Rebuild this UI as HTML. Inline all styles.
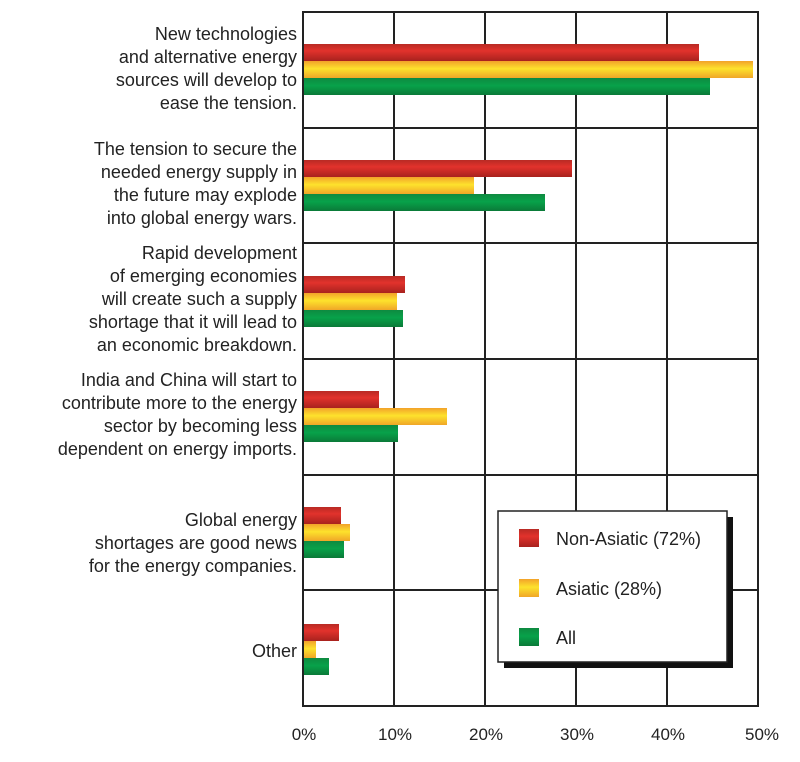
<!DOCTYPE html>
<html><head><style>
body{margin:0;background:#fff;}
svg{display:block;font-family:"Liberation Sans",sans-serif;}
</style></head><body>
<svg width="800" height="762" viewBox="0 0 800 762">
<defs>
<linearGradient id="r" x1="0" y1="0" x2="0" y2="1"><stop offset="0" stop-color="#b82a24"/><stop offset="0.4" stop-color="#e2322c"/><stop offset="1" stop-color="#a8221e"/></linearGradient>
<linearGradient id="y" x1="0" y1="0" x2="0" y2="1"><stop offset="0" stop-color="#f2a22a"/><stop offset="0.45" stop-color="#fde22c"/><stop offset="1" stop-color="#f0a628"/></linearGradient>
<linearGradient id="g" x1="0" y1="0" x2="0" y2="1"><stop offset="0" stop-color="#0e8a40"/><stop offset="0.45" stop-color="#08a24a"/><stop offset="1" stop-color="#0a7a38"/></linearGradient>
</defs>
<g stroke="#222" stroke-width="2" fill="none">
<rect x="303" y="12" width="455" height="694"/>
<line x1="394" y1="12" x2="394" y2="706"/><line x1="485" y1="12" x2="485" y2="706"/>
<line x1="576" y1="12" x2="576" y2="706"/><line x1="667" y1="12" x2="667" y2="706"/>
<line x1="303" y1="128" x2="758" y2="128"/><line x1="303" y1="243" x2="758" y2="243"/>
<line x1="303" y1="359" x2="758" y2="359"/><line x1="303" y1="475" x2="758" y2="475"/>
<line x1="303" y1="590" x2="758" y2="590"/>
</g>
<g>
<rect x="304" y="44" width="395" height="17" fill="url(#r)"/><rect x="304" y="61" width="449" height="17" fill="url(#y)"/><rect x="304" y="78" width="406" height="17" fill="url(#g)"/>
<rect x="304" y="160" width="268" height="17" fill="url(#r)"/><rect x="304" y="177" width="170" height="17" fill="url(#y)"/><rect x="304" y="194" width="241" height="17" fill="url(#g)"/>
<rect x="304" y="276" width="101" height="17" fill="url(#r)"/><rect x="304" y="293" width="93" height="17" fill="url(#y)"/><rect x="304" y="310" width="99" height="17" fill="url(#g)"/>
<rect x="304" y="391" width="75" height="17" fill="url(#r)"/><rect x="304" y="408" width="143" height="17" fill="url(#y)"/><rect x="304" y="425" width="94" height="17" fill="url(#g)"/>
<rect x="304" y="507" width="37" height="17" fill="url(#r)"/><rect x="304" y="524" width="46" height="17" fill="url(#y)"/><rect x="304" y="541" width="40" height="17" fill="url(#g)"/>
<rect x="304" y="624" width="35" height="17" fill="url(#r)"/><rect x="304" y="641" width="12" height="17" fill="url(#y)"/><rect x="304" y="658" width="25" height="17" fill="url(#g)"/>
</g>
<rect x="504" y="517" width="229" height="151" fill="#111"/>
<rect x="498" y="511" width="229" height="151" fill="#fff" stroke="#222" stroke-width="1.5"/>
<rect x="519" y="529" width="20" height="18" fill="url(#r)"/>
<rect x="519" y="579" width="20" height="18" fill="url(#y)"/>
<rect x="519" y="628" width="20" height="18" fill="url(#g)"/>
<g font-size="18" fill="#222">
<text x="556" y="545">Non-Asiatic (72%)</text>
<text x="556" y="595">Asiatic (28%)</text>
<text x="556" y="644">All</text>
</g>
<g font-size="17" fill="#222" text-anchor="middle">
<text x="304" y="740">0%</text><text x="395" y="740">10%</text><text x="486" y="740">20%</text>
<text x="577" y="740">30%</text><text x="668" y="740">40%</text><text x="762" y="740">50%</text>
</g>
<g font-size="18" fill="#222" text-anchor="end">
<text x="297" y="40">New technologies</text><text x="297" y="63">and alternative energy</text><text x="297" y="86">sources will develop to</text><text x="297" y="109">ease the tension.</text>
<text x="297" y="155">The tension to secure the</text><text x="297" y="178">needed energy supply in</text><text x="297" y="201">the future may explode</text><text x="297" y="224">into global energy wars.</text>
<text x="297" y="259">Rapid development</text><text x="297" y="282">of emerging economies</text><text x="297" y="305">will create such a supply</text><text x="297" y="328">shortage that it will lead to</text><text x="297" y="351">an economic breakdown.</text>
<text x="297" y="386">India and China will start to</text><text x="297" y="409">contribute more to the energy</text><text x="297" y="432">sector by becoming less</text><text x="297" y="455">dependent on energy imports.</text>
<text x="297" y="526">Global energy</text><text x="297" y="549">shortages are good news</text><text x="297" y="572">for the energy companies.</text>
<text x="297" y="657">Other</text>
</g>
</svg>
</body></html>
